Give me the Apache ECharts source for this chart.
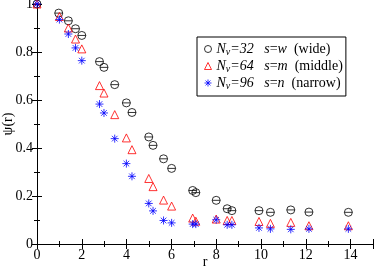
<!DOCTYPE html>
<html><head><meta charset="utf-8">
<script src="https://cdn.jsdelivr.net/npm/echarts@6/dist/echarts.min.js"></script>
<style>html,body{margin:0;padding:0;background:#fff}#c{width:374px;height:268px}</style>
</head><body><div id="c"></div>
<script>
// Data
const rWide   = [0, 0.97, 1.40, 1.72, 2.00, 2.79, 2.99, 3.47, 3.99, 4.24, 4.99, 5.18, 5.65, 6.01, 6.95, 7.09, 8.00, 8.49, 8.70, 9.91, 10.42, 11.33, 12.14, 13.90];
const psiWide = [1, 0.962, 0.930, 0.897, 0.869, 0.760, 0.736, 0.664, 0.588, 0.548, 0.446, 0.411, 0.355, 0.315, 0.223, 0.214, 0.182, 0.147, 0.139, 0.139, 0.132, 0.142, 0.133, 0.132];
const rMid    = [0, 1.00, 1.40, 1.72, 2.00, 2.79, 2.99, 3.47, 3.99, 4.24, 4.99, 5.18, 5.65, 6.01, 6.95, 7.09, 8.00, 8.49, 8.70, 9.91, 10.42, 11.33, 12.14, 13.90];
const psiMid  = [1, 0.948, 0.900, 0.854, 0.813, 0.660, 0.629, 0.539, 0.442, 0.393, 0.273, 0.239, 0.183, 0.158, 0.108, 0.095, 0.104, 0.098, 0.098, 0.094, 0.086, 0.090, 0.076, 0.076];
const rNar    = [0, 1.00, 1.40, 1.72, 2.00, 2.79, 2.99, 3.47, 3.99, 4.24, 4.99, 5.18, 5.65, 6.01, 6.95, 7.09, 8.00, 8.49, 8.70, 9.91, 10.42, 11.33, 12.14, 13.90];
const psiNar  = [1, 0.935, 0.875, 0.817, 0.764, 0.583, 0.546, 0.439, 0.335, 0.282, 0.169, 0.138, 0.098, 0.088, 0.083, 0.083, 0.101, 0.080, 0.080, 0.067, 0.063, 0.061, 0.063, 0.063];
const seriesNames = ['w', 'm', 'n'];
const legendNv = ['32', '64', '96'];
const legendWord = ['wide', 'middle', 'narrow'];
const xTicks = [0, 2, 4, 6, 8, 10, 12, 14];

const zip = (a, b) => a.map((v, i) => [v, b[i]]);
const FONT = '"Liberation Serif", "DejaVu Serif", serif';
const thetaPath = 'path://M0,5 A5,5 0 1,0 10,5 A5,5 0 1,0 0,5 Z M0,5 L10,5';
const starPath = 'path://M5,0 L5,10 M0,5 L10,5 M1.5,1.5 L8.5,8.5 M8.5,1.5 L1.5,8.5';

const chart = echarts.init(document.getElementById('c'), null, {renderer: 'canvas'});
const axisCommon = {
  axisLine: {lineStyle: {color: '#000', width: 1}},
  axisTick: {inside: true, length: 5, lineStyle: {color: '#000'}},
  minorTick: {show: true, splitNumber: 2, length: 3, lineStyle: {color: '#000'}},
  splitLine: {show: false}
};
chart.setOption({
  animation: false,
  backgroundColor: '#fff',
  grid: {left: 37, right: 1, top: 4, bottom: 24, containLabel: false, outerBoundsMode: 'none'},
  xAxis: [
    Object.assign({type: 'value', min: 0, max: 15, interval: 2, position: 'bottom',
      name: 'r', nameLocation: 'middle', nameGap: 11, nameMoveOverlap: false,
      nameTextStyle: {fontFamily: FONT, fontSize: 14, color: '#000'},
      axisLabel: {fontFamily: FONT, fontSize: 14, color: '#000', margin: 4, showMaxLabel: false,
        formatter: v => xTicks.includes(v) ? String(v) : ''}}, axisCommon),
    Object.assign({type: 'value', min: 0, max: 15, interval: 2, position: 'top',
      axisLabel: {show: false}}, axisCommon)
  ],
  yAxis: [
    Object.assign({type: 'value', min: 0, max: 1, interval: 0.2, position: 'left',
      name: 'ψ(r)', nameLocation: 'middle', nameGap: 22, nameRotate: 90, nameMoveOverlap: false,
      nameTextStyle: {fontFamily: FONT, fontSize: 14, color: '#000'},
      axisLabel: {fontFamily: FONT, fontSize: 14, color: '#000', margin: 4}}, axisCommon),
    Object.assign({type: 'value', min: 0, max: 1, interval: 0.2, position: 'right',
      axisLabel: {show: false}}, axisCommon)
  ],
  legend: {
    orient: 'vertical', left: 197, top: 37,
    padding: [4, 3, 5, 7], itemGap: 1, itemWidth: 7, itemHeight: 7,
    borderColor: '#000', borderWidth: 1, borderRadius: 0, backgroundColor: '#fff',
    data: [
      {name: 'w', icon: 'circle', itemStyle: {color: 'transparent', borderColor: '#000', borderWidth: 1}},
      {name: 'm', icon: 'triangle', itemStyle: {color: 'transparent', borderColor: '#f00', borderWidth: 1}},
      {name: 'n', icon: starPath, itemStyle: {color: 'transparent', borderColor: '#00f', borderWidth: 1}}
    ],
    formatter: name => {
      const i = seriesNames.indexOf(name);
      return '{i|N}{sub|v}{i|=' + legendNv[i] + '}   {i|s}{n|=}{i|' + name + '}  {n|(' + legendWord[i] + ')}';
    },
    textStyle: {
      fontFamily: FONT, fontSize: 14, color: '#000', lineHeight: 16,
      rich: {
        i: {fontFamily: FONT, fontStyle: 'italic', fontSize: 14, color: '#000', lineHeight: 16},
        n: {fontFamily: FONT, fontSize: 14, color: '#000', lineHeight: 16},
        sub: {fontFamily: FONT, fontStyle: 'italic', fontSize: 10, color: '#000', lineHeight: 5, verticalAlign: 'bottom'}
      }
    }
  },
  series: [
    {name: 'w', type: 'scatter', data: zip(rWide, psiWide), symbol: thetaPath, symbolSize: 8,
      itemStyle: {color: 'transparent', borderColor: '#000', borderWidth: 1}, z: 3},
    {name: 'm', type: 'scatter', data: zip(rMid, psiMid), symbol: 'triangle', symbolSize: 8,
      itemStyle: {color: 'transparent', borderColor: '#f00', borderWidth: 1}, z: 4},
    {name: 'n', type: 'scatter', data: zip(rNar, psiNar), symbol: starPath, symbolSize: 8,
      itemStyle: {color: 'transparent', borderColor: '#00f', borderWidth: 1}, z: 5}
  ]
});
</script></body></html>
